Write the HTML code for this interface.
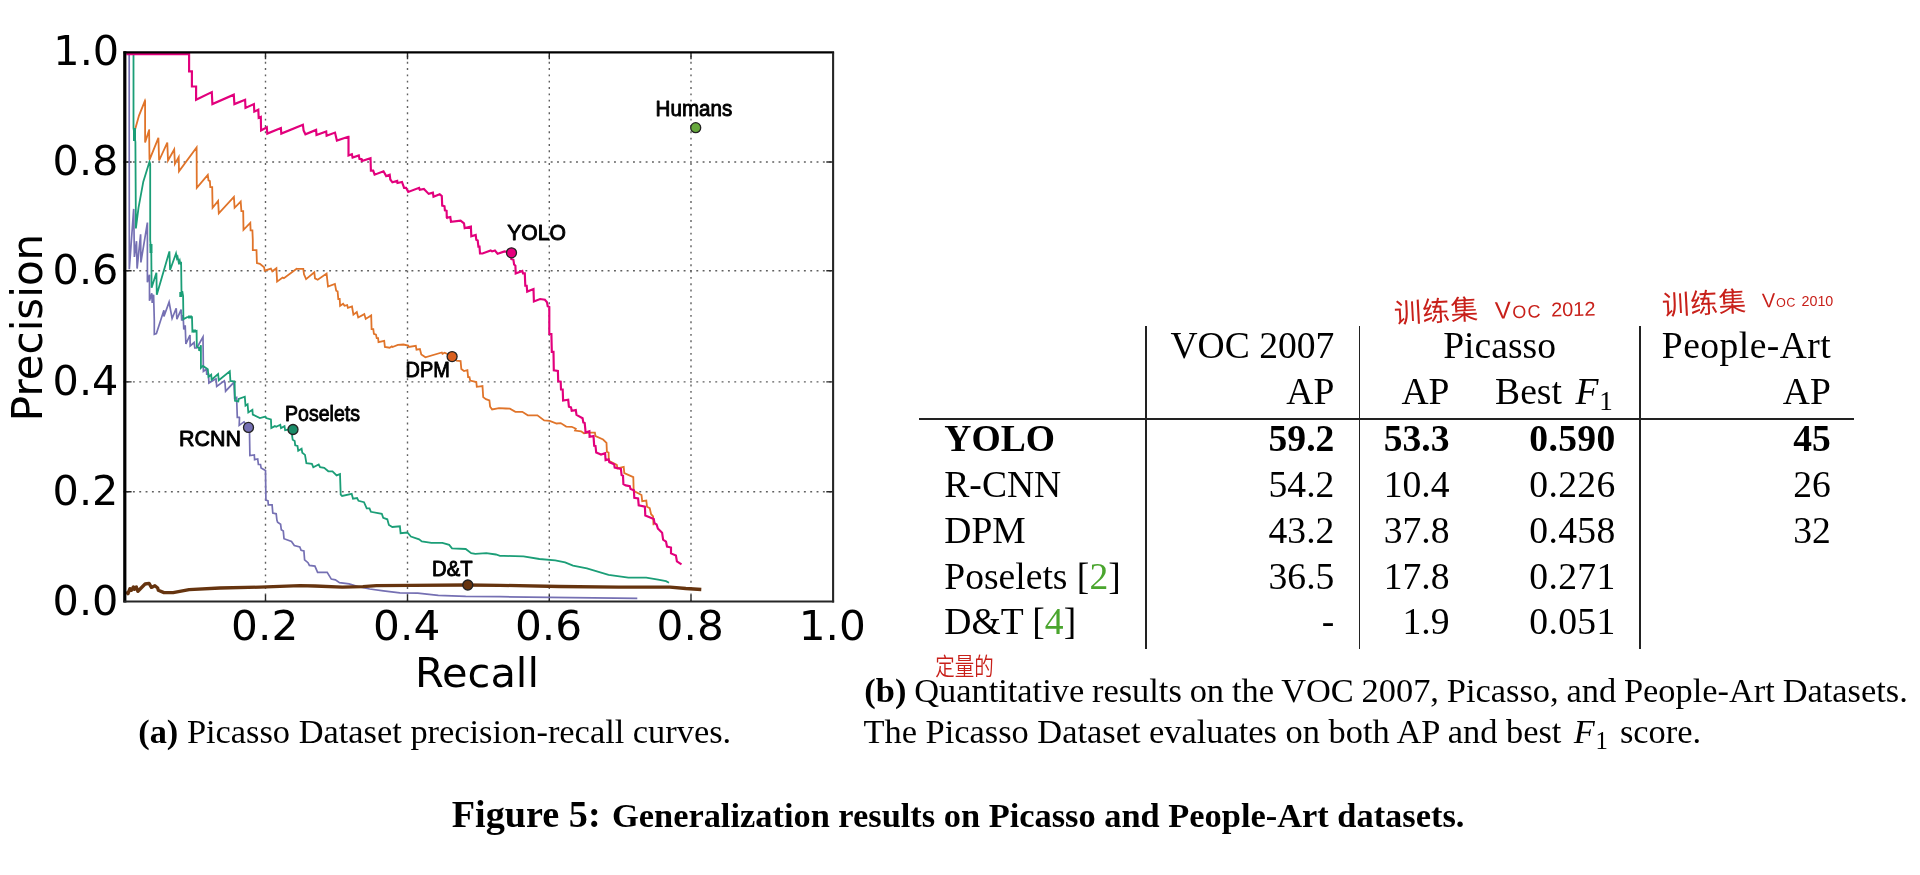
<!DOCTYPE html>
<html lang="en">
<head>
<meta charset="utf-8">
<title>Figure 5: Generalization results on Picasso and People-Art datasets</title>
<style>
html,body{margin:0;padding:0;background:#fff;}
body{width:1920px;height:875px;position:relative;overflow:hidden;filter:blur(0.55px);font-family:"Liberation Serif", "Noto Serif CJK SC", serif;color:#000;}
.chart{position:absolute;left:0;top:0;}
.t{position:absolute;white-space:nowrap;margin:0;}
.t b{font-weight:700;}
.g{color:#4aa52e;}
.mi{font-style:italic;font-family:"Liberation Serif", "Noto Serif CJK SC", serif;margin-left:0.11em;letter-spacing:0.05em;}
sub{font-size:0.72em;vertical-align:baseline;position:relative;top:0.22em;line-height:0;margin-left:-0.04em;margin-right:0.14em;}
.rule{position:absolute;background:#222;}
.hw{position:absolute;white-space:nowrap;color:#c8201a;font-family:"Liberation Sans","Noto Sans CJK SC","WenQuanYi Zen Hei",sans-serif;transform-origin:50% 50%;}
.hw.lat{font-family:"Liberation Sans","DejaVu Sans",sans-serif;}
</style>
</head>
<body>
<svg class="chart" width="1920" height="875" viewBox="0 0 1920 875">
<g stroke="#606060" stroke-width="1.4" stroke-dasharray="1.9 4.43" fill="none">
<path d="M265.5 55.4V601.5"/>
<path d="M126.6 491.8H833.1"/>
<path d="M407.5 55.4V601.5"/>
<path d="M126.6 381.9H833.1"/>
<path d="M549.3 55.4V601.5"/>
<path d="M126.6 270.8H833.1"/>
<path d="M691.0 55.4V601.5"/>
<path d="M126.6 162.0H833.1"/>
</g>
<g stroke="#2a2a2a" stroke-width="1.4" fill="none">
<path d="M265.5 601.5v-6.8M265.5 52.4v6.8"/>
<path d="M123.6 491.8h8M833.1 491.8h-6.8"/>
<path d="M407.5 601.5v-6.8M407.5 52.4v6.8"/>
<path d="M123.6 381.9h8M833.1 381.9h-6.8"/>
<path d="M549.3 601.5v-6.8M549.3 52.4v6.8"/>
<path d="M123.6 270.8h8M833.1 270.8h-6.8"/>
<path d="M691.0 601.5v-6.8M691.0 52.4v6.8"/>
<path d="M123.6 162.0h8M833.1 162.0h-6.8"/>
</g>
<g fill="none" stroke-linejoin="miter" stroke-linecap="butt">
<path d="M129.2 54.4 L129.2 128 L129.3 269.3 L133.7 208.9 L134.4 256.9 L136.5 241.2 L137.1 268.6 L140.6 234.3 L140.9 262.4 L147.4 222.6 L147.4 282.3 L149.5 274.8 L149.5 300.8 L151.8 293.3 L152.2 302.9 L153.6 294.7 L154.3 320 L154.3 334.3 L156.4 333.6 L163.9 310.3 L163.9 316.5 L169.1 302.1 L172.1 318.5 L176.2 308.2 L176.9 319.2 L181.1 309.6 L181.7 320.6 L183.1 315.1 L183.8 329.5 L185.2 325.4 L185.9 343.9 L190 335 L190.2 346 L194.1 342.5 L194.8 348 L196.8 348 L203 337 L203.4 371.3 L206.4 369.3 L206.7 374.1 L208.5 374.1 L208.9 383 L214.7 379.6 L216 378.9 L216.7 386.4 L224.3 380.9 L225 383 L225.6 391.2 L233.9 382.3 L234.6 398.1 L236.6 397.4 L237.3 417.3 L239.4 417.3 L239.5 417.6 L239.2 425.4 L244 421.9 L248.5 427.4 L249.5 432.2 L249.9 455.5 L254.3 454.9 L254.6 459.7 L257.7 459 L258.4 464.5 L260.5 464.5 L261.1 467.9 L265.5 470.6 L265.9 500.1 L268 500.8 L268.3 504.9 L272.1 504.9 L272.8 513.1 L276.2 513.8 L276.9 520 L277.6 522.2 L280.6 524.3 L281.3 529.8 L283.3 531.1 L284 538.7 L291.5 541.4 L294.3 545.5 L299.8 546.9 L301.1 550.3 L303.9 551 L304.6 559.9 L308 562.7 L309.4 565.4 L314.9 566.1 L317.6 572.3 L327.2 572.3 L331.3 579.1 L335.4 579.8 L339.5 582.6 L349.1 583.9 L358.7 586.7 L369.7 589 L383.4 590.8 L399.9 592.9 L417.7 593.1 L438.3 595.3 L465.7 596.3 L500 596.7 L549.3 597.4 L637.3 598.4" stroke="#7570b3" stroke-width="1.7"/>
<path d="M133.5 54.4 L133.5 128 L135.4 142 L135.9 228.4 L138.5 207.8 L143.3 181.7 L149.5 161.8 L150.2 163.9 L150.2 240 L150.5 243.9 L151.3 253.5 L151.6 287.8 L156.4 272.7 L156.8 294.7 L169.4 251.4 L170.1 270 L176 253.5 L176.9 258.3 L177.6 256.9 L178.7 262.4 L179.7 260.4 L180.4 264.5 L181.1 261.7 L181.5 291.9 L182.4 291.9 L183.1 296 L183.4 318 L183.4 319.2 L187.2 317.1 L192 317.1 L192.4 331.6 L196.6 330.9 L196.8 346.6 L198.9 348 L199.2 351 L200.9 345.3 L200.9 367.9 L203 365.9 L207.8 369.3 L208.5 376.8 L211.2 374.8 L211.6 379.6 L218.1 374.1 L218.8 380.3 L229.8 371.3 L230.4 380.9 L234.6 381.6 L235 400.8 L238.3 401.5 L238.7 398.8 L244.8 396.7 L245.5 405.6 L247.6 404.3 L248.3 412.5 L252.4 409.8 L252.8 414.6 L259.9 418 L265.4 416.6 L266.1 418 L270.9 419.4 L271 420.6 L271.3 428.1 L274.9 426.1 L276.2 426.7 L280.3 424.7 L281 428.1 L284.5 426.1 L285.1 430.2 L288.6 429.5 L293 429.5 L292 435 L292.7 439.8 L294.7 441.1 L295.2 445.3 L297.5 445.9 L298.2 450.7 L301.6 448.7 L302.3 452.8 L305 454.9 L306.4 463.1 L311.9 463.8 L313.3 467.2 L318.7 464.5 L320.1 467.2 L324.2 467.9 L328.3 471.3 L332.5 471.3 L336.6 475.4 L340 474.1 L340.7 494.6 L342.1 496 L351.7 493.9 L353 498.7 L357.1 498.1 L358.5 500.8 L364 502.2 L366.7 508.3 L369.5 508.3 L370.9 511.8 L381.8 513.8 L383.2 517.9 L387.3 519.3 L388.9 525 L392.3 527 L399.9 526.3 L400.6 533.2 L407.4 532.5 L410.9 536.6 L419.1 539.4 L421.8 541.4 L431.4 542.8 L442.4 542.8 L449.2 544.9 L452 548.3 L465.7 549 L471.2 553.1 L475.3 553.8 L486.3 553.1 L495.9 554.5 L500 555.8 L503.7 555.8 L523.5 556.4 L539.4 559 L555.2 560.4 L565.1 562.3 L573 565.7 L586.9 568.3 L608.6 574.8 L628.4 577.6 L646.2 577.6 L658.1 579.6 L666 581.1 L669 582.7" stroke="#1b9e77" stroke-width="1.8"/>
<path d="M134.9 130.3 L139 115.6 L145 100.6 L145.1 100.9 L145.1 142.4 L149.2 129.9 L149.1 129.6 L149.5 159.8 L158.4 137.8 L159.1 160.5 L167.3 142.6 L168 160.5 L174.2 149.5 L174.9 163.9 L178.7 157 L179 171.4 L196.6 147.4 L196.8 187.9 L207.8 174.9 L208.5 180.4 L209.9 181.1 L210.3 187.2 L212.2 187.2 L212.6 207.8 L218.1 200.9 L218.8 213.3 L233.9 196.8 L234.6 207.8 L240.7 201.6 L241.4 211.2 L243.2 211.2 L243.5 229.8 L250.3 222.9 L250.6 230.4 L252.4 230.4 L252.8 240 L252.8 250.1 L256.5 250.1 L256.9 263.1 L259.9 263.8 L264.1 267.2 L264.7 270.7 L270.9 268.6 L272.3 271.3 L276.4 268.3 L277.1 281.6 L282.6 277.5 L283.9 278.2 L297 268.6 L296.5 268.8 L303.3 268.8 L304 274.3 L306.1 279.1 L314.3 272.2 L315 278.4 L317.7 279.8 L326.6 273.6 L328 286.6 L334.9 283.9 L336.2 290.7 L337.6 291.4 L338.3 299 L339.7 299 L340.1 305.8 L343.1 303.8 L344.5 305.8 L347.2 305.1 L347.9 307.9 L352 306.5 L353.4 314.7 L356.8 312 L358.2 317.5 L364.3 314.1 L365.7 318.9 L371.2 315.4 L371.6 329.1 L373.3 329.1 L373.9 333.9 L376 334.6 L376.7 338.1 L378.1 338.1 L378.5 342.2 L384.2 340.8 L384.9 347 L389.7 347.7 L391.8 346.3 L392.5 347 L397.9 344.9 L403.4 344.5 L408.2 345.6 L408.9 347 L415.8 345.9 L416.5 349.7 L419.9 349 L421.3 354.5 L425.4 357.3 L441.8 352.5 L442.5 353.8 L444.6 352.7 L452.1 356.3 L456.5 360.7 L460.6 361 L461.3 369 L464 371 L467.4 370.1 L468.1 377.2 L469.5 377.2 L470.2 380.6 L476.3 382 L476.8 386.8 L482.5 386.1 L483.2 397.1 L485.9 399.1 L489.4 400.5 L490.1 406.7 L492.1 409.4 L499 408.1 L505.8 408.5 L509.9 408.7 L515.4 411.8 L522.3 411.8 L527.8 415.3 L537.4 415.3 L544.2 420.4 L549.7 420.8 L556.6 423.5 L560.7 423.1 L566.2 426.6 L571.7 426.8 L575.8 428.6 L575 430.6 L581.1 431.3 L583.9 433.3 L589.4 432.6 L594.9 432.6 L595.5 436.1 L603.1 439.5 L606.5 442.9 L606.9 451.8 L608.6 452.5 L608.8 460.7 L616.8 464.9 L617.5 468.3 L623.7 466.9 L624.3 473.1 L633.3 477.2 L633.7 490.9 L641.5 495 L642.2 501.2 L646.3 500.5 L647 506.7 L649.7 508.1 L651.1 514.2 L653.1 516.3 L653.5 525.2" stroke="#e0742a" stroke-width="1.8"/>
<path d="M126.3 54.1 L189.1 54.1 L189.1 71.4 L191.9 71.4 L191.9 86.5 L196.1 86.5 L196.1 99.7 L211.8 92.1 L212.4 104.1 L233.8 94.7 L234.4 104.1 L245.1 99.7 L245.5 107.9 L253.9 104.1 L254.3 111.6 L258.3 109.7 L258.7 117.9 L260.8 116.9 L261.1 130.5 L266.8 127.3 L267.3 133.6 L280.9 128 L281.3 133.6 L302.9 124.8 L303.6 130.5 L305.4 134.3 L316.1 129.9 L316.5 134.9 L326.2 131.5 L326.6 135.8 L335 132.6 L336.9 140.5 L348.2 136.8 L348.5 136.8 L348.5 155.5 L351.9 154.2 L352.6 157.6 L358.8 155.5 L359.5 159 L361.5 159 L361.8 161 L370.5 158.3 L370.9 170.6 L373.2 170.6 L374.6 174.7 L383.5 171.3 L386.2 176.1 L389.7 174.7 L390.3 179.5 L392.4 182.3 L397.2 180.9 L397.5 183 L402 182 L404.1 187.8 L406.1 187.8 L408.2 191.9 L419.1 187.8 L419.8 189.8 L423.9 188.9 L428.7 193.9 L432.9 192.6 L433.5 196.7 L439.7 194.3 L441.8 196 L442.2 205.6 L444.5 206.3 L444.9 210.4 L446.6 210.8 L446.8 217.9 L446.2 217.8 L450.3 217.1 L451 221.9 L460.6 220.6 L464 223.3 L464.7 228.1 L470.9 226.7 L471.3 236.3 L475.7 235 L476.3 239.8 L477.7 240.5 L478.4 246.6 L479.5 246.6 L480 253.5 L482.5 253.5 L490.7 250.5 L492.1 251.4 L494.9 250.5 L497.6 253.8 L504.5 251.4 L511.3 252.8 L511.3 259 L513.4 259.7 L514.1 264.5 L515.4 265.8 L515.7 273.4 L522.3 271 L523 273.4 L524.8 273.4 L525.3 285.7 L526.7 285.7 L527.2 291.6 L533.5 289.1 L533.9 301.5 L540.1 299 L544.9 299.8 L547 302.2 L547.7 306.3 L549.3 307 L549.3 320 L549.3 334 L551.4 334 L551.8 351.8 L553.5 351.8 L553.8 370.3 L557.9 371 L558.2 381.3 L560.7 381.6 L561 389.5 L562.7 389.5 L563.1 400.5 L568.2 399.8 L568.9 406.7 L571 407.4 L571.7 410.8 L575.8 410.1 L576.5 414.9 L582.6 418.3 L583.3 422.5 L584.7 423.1 L585.4 430 L585.5 432.6 L589.4 431.3 L589.6 436.7 L593.5 436.1 L594.2 445.7 L595.5 445.9 L596.2 452.5 L601 454.6 L605.1 453.2 L605.6 460.1 L608.6 459.4 L609.3 462.1 L614.1 464.2 L614.7 467.6 L620.9 469 L621.6 475.1 L623 475.8 L623.4 484.1 L625.7 485.4 L629.8 486.1 L630.5 488.9 L633.9 490.2 L634.3 497.8 L638.1 498.5 L638.7 505.3 L644.9 506.7 L645.3 515.6 L653.8 519 L654.5 523.1 L656.6 524.5 L657.9 528.6 L659.1 529.7 L662.1 532.7 L663.1 539.6 L666 541.6 L667 546.5 L671 547.5 L671 553.4 L675.9 555.4 L676.9 561.3 L681.5 564.3" stroke="#e2007c" stroke-width="2.15"/>
<path d="M126.3 591.4 L128 593.7 L129.9 588.6 L131.4 590.3 L133.4 586.9 L134.3 589.4 L136.3 586.9 L137.9 591.4 L141.1 588 L145.1 584 L149.1 583.4 L151.4 587.4 L154.9 585.7 L157.7 588 L158.3 590.3 L164 592.6 L173.1 592.6 L189.1 589.7 L220 588 L260 587.1 L300 585.7 L314.9 586 L342.3 587.1 L362.9 586.7 L376.6 585.6 L410.9 585.3 L465.7 585 L500 585.3 L559.2 586.5 L618.5 587.1 L670 587.1 L685.8 588.5 L701.3 589.5" stroke="#66340f" stroke-width="3.3" stroke-linejoin="round"/>
</g>
<g stroke="#1b9e77" stroke-width="3" fill="none"><path d="M134.5 128V141"/><path d="M151 244V253"/><path d="M180.8 292V297"/><path d="M188 317H192"/><path d="M193 331H196"/></g>
<path d="M124.8 51.2V602.5" stroke="#000" stroke-width="3.2" fill="none"/>
<path d="M123.6 52.4H834.1" stroke="#000" stroke-width="2.4" fill="none"/>
<path d="M833.1 52.4V602.5" stroke="#262626" stroke-width="2.1" fill="none"/>
<path d="M123.6 601.5H834.1" stroke="#262626" stroke-width="2" fill="none"/>
<circle cx="695.7" cy="127.7" r="5" fill="#66a83c" stroke="#222" stroke-width="1.3"/>
<circle cx="511.5" cy="252.8" r="5" fill="#e6007e" stroke="#222" stroke-width="1.3"/>
<circle cx="452.1" cy="356.6" r="5" fill="#d95f1e" stroke="#222" stroke-width="1.3"/>
<circle cx="293" cy="429.5" r="5" fill="#1b8c68" stroke="#222" stroke-width="1.3"/>
<circle cx="248.5" cy="427.4" r="5" fill="#7570b3" stroke="#222" stroke-width="1.3"/>
<circle cx="467.8" cy="585" r="5" fill="#66340f" stroke="#222" stroke-width="1.3"/>
<g font-family="'DejaVu Sans', 'Liberation Sans', sans-serif" font-size="41" fill="#000">
<text transform="translate(264.7 640.3) scale(1.03 1)" text-anchor="middle">0.2</text>
<text transform="translate(406.7 640.3) scale(1.03 1)" text-anchor="middle">0.4</text>
<text transform="translate(548.5 640.3) scale(1.03 1)" text-anchor="middle">0.6</text>
<text transform="translate(690.2 640.3) scale(1.03 1)" text-anchor="middle">0.8</text>
<text transform="translate(832.3 640.3) scale(1.03 1)" text-anchor="middle">1.0</text>
<text transform="translate(118.4 614.9) scale(1.01 1)" text-anchor="end">0.0</text>
<text transform="translate(118.4 505.2) scale(1.01 1)" text-anchor="end">0.2</text>
<text transform="translate(118.4 395.3) scale(1.01 1)" text-anchor="end">0.4</text>
<text transform="translate(118.4 284.2) scale(1.01 1)" text-anchor="end">0.6</text>
<text transform="translate(118.4 175.4) scale(1.01 1)" text-anchor="end">0.8</text>
<text transform="translate(119.2 64.5) scale(1.01 1)" text-anchor="end">1.0</text>
</g>
<g font-family="'DejaVu Sans', 'Liberation Sans', sans-serif" font-size="41.5" fill="#000">
<text transform="translate(477 686.5) scale(1.025 1)" text-anchor="middle" font-size="40.5">Recall</text>
<text transform="translate(41.6 327.5) rotate(-90)" text-anchor="middle" font-size="42">Precision</text>
</g>
<g font-family="'Liberation Sans', sans-serif" font-weight="400" font-size="21.5" fill="#000" stroke="#000" stroke-width="0.9" stroke-linejoin="round">
<text x="655.6" y="116.1" textLength="76.6" lengthAdjust="spacingAndGlyphs">Humans</text>
<text x="507.2" y="240" textLength="58.7" lengthAdjust="spacingAndGlyphs">YOLO</text>
<text x="405.5" y="377" textLength="44.3" lengthAdjust="spacingAndGlyphs">DPM</text>
<text x="285" y="421" textLength="75" lengthAdjust="spacingAndGlyphs">Poselets</text>
<text x="179" y="446" textLength="62" lengthAdjust="spacingAndGlyphs">RCNN</text>
<text x="432.1" y="575.7" textLength="40.5" lengthAdjust="spacingAndGlyphs">D&amp;T</text>
</g>
</svg>
<div class="rule" style="left:919.2px;top:417.8px;width:934.7px;height:1.9px;"></div>
<div class="rule" style="left:1145.3px;top:325.7px;width:1.4px;height:323px;"></div>
<div class="rule" style="left:1358.7px;top:325.7px;width:1.4px;height:323px;"></div>
<div class="rule" style="left:1639.3px;top:325.7px;width:1.4px;height:323px;"></div>
<div class="t" style="top:323.30px;font-size:37.6px;line-height:45px;right:585.7px;text-align:right;">VOC 2007</div>
<div class="t" style="top:368.90px;font-size:37.6px;line-height:45px;right:585.7px;text-align:right;">AP</div>
<div class="t" style="top:323.30px;font-size:37.6px;line-height:45px;left:1099.6px;width:800px;text-align:center;">Picasso</div>
<div class="t" style="top:368.90px;font-size:37.6px;line-height:45px;right:470.5px;text-align:right;">AP</div>
<div class="t" style="top:368.90px;font-size:37.6px;line-height:45px;right:303.5px;text-align:right;">Best <i class="mi">F</i><sub>1</sub></div>
<div class="t" style="top:323.30px;font-size:37.6px;line-height:45px;right:88.8px;text-align:right;letter-spacing:0.45px;">People-Art</div>
<div class="t" style="top:368.90px;font-size:37.6px;line-height:45px;right:89.2px;text-align:right;">AP</div>
<div class="t" style="top:416.40px;font-size:37.6px;line-height:45px;font-weight:700;left:944.3px;">YOLO</div>
<div class="t" style="top:416.40px;font-size:37.6px;line-height:45px;font-weight:700;right:585.7px;text-align:right;">59.2</div>
<div class="t" style="top:416.40px;font-size:37.6px;line-height:45px;font-weight:700;right:470.5px;text-align:right;">53.3</div>
<div class="t" style="top:416.40px;font-size:37.6px;line-height:45px;font-weight:700;right:304.4px;text-align:right;letter-spacing:0.35px;">0.590</div>
<div class="t" style="top:416.40px;font-size:37.6px;line-height:45px;font-weight:700;right:89.2px;text-align:right;">45</div>
<div class="t" style="top:462.10px;font-size:37.6px;line-height:45px;left:944.3px;">R-CNN</div>
<div class="t" style="top:462.10px;font-size:37.6px;line-height:45px;right:585.7px;text-align:right;">54.2</div>
<div class="t" style="top:462.10px;font-size:37.6px;line-height:45px;right:470.5px;text-align:right;">10.4</div>
<div class="t" style="top:462.10px;font-size:37.6px;line-height:45px;right:304.4px;text-align:right;letter-spacing:0.35px;">0.226</div>
<div class="t" style="top:462.10px;font-size:37.6px;line-height:45px;right:89.2px;text-align:right;">26</div>
<div class="t" style="top:507.90px;font-size:37.6px;line-height:45px;left:944.3px;">DPM</div>
<div class="t" style="top:507.90px;font-size:37.6px;line-height:45px;right:585.7px;text-align:right;">43.2</div>
<div class="t" style="top:507.90px;font-size:37.6px;line-height:45px;right:470.5px;text-align:right;">37.8</div>
<div class="t" style="top:507.90px;font-size:37.6px;line-height:45px;right:304.4px;text-align:right;letter-spacing:0.35px;">0.458</div>
<div class="t" style="top:507.90px;font-size:37.6px;line-height:45px;right:89.2px;text-align:right;">32</div>
<div class="t" style="top:553.60px;font-size:37.6px;line-height:45px;left:944.3px;">Poselets [<span class="g">2</span>]</div>
<div class="t" style="top:553.60px;font-size:37.6px;line-height:45px;right:585.7px;text-align:right;">36.5</div>
<div class="t" style="top:553.60px;font-size:37.6px;line-height:45px;right:470.5px;text-align:right;">17.8</div>
<div class="t" style="top:553.60px;font-size:37.6px;line-height:45px;right:304.4px;text-align:right;letter-spacing:0.35px;">0.271</div>
<div class="t" style="top:599.40px;font-size:37.6px;line-height:45px;left:944.3px;">D&amp;T [<span class="g">4</span>]</div>
<div class="t" style="top:599.40px;font-size:37.6px;line-height:45px;right:585.7px;text-align:right;">-</div>
<div class="t" style="top:599.40px;font-size:37.6px;line-height:45px;right:470.5px;text-align:right;">1.9</div>
<div class="t" style="top:599.40px;font-size:37.6px;line-height:45px;right:304.4px;text-align:right;letter-spacing:0.35px;">0.051</div>
<div class="t" style="top:711.40px;font-size:34.4px;line-height:41px;left:138.2px;"><b>(a)</b> Picasso Dataset precision-recall curves.</div>
<div class="t" style="top:669.90px;font-size:34.4px;line-height:41px;left:864.3px;word-spacing:-0.75px;"><b>(b)</b> Quantitative results on the VOC 2007, Picasso, and People-Art Datasets.</div>
<div class="t" style="top:711.40px;font-size:34.4px;line-height:41px;left:863.5px;">The Picasso Dataset evaluates on both AP and best <i class="mi">F</i><sub>1</sub> score.</div>
<div class="t" style="top:791.20px;font-size:38.2px;line-height:46px;font-weight:700;left:451.8px;">Figure 5:</div>
<div class="t" style="top:794.70px;font-size:34.4px;line-height:41px;font-weight:700;left:612.0px;">Generalization results on Picasso and People-Art datasets.</div>
<div class="hw" style="left:1394px;top:297.8px;font-size:27.5px;line-height:27.5px;font-weight:400;letter-spacing:0.8px;transform:rotate(-3deg);">训练集</div>
<div class="hw lat" style="left:1495px;top:301.0px;font-size:18px;line-height:18px;font-weight:400;letter-spacing:1.2px;transform:rotate(-2deg);"><span style="font-size:24px">V</span>OC</div>
<div class="hw lat" style="left:1550.5px;top:298.5px;font-size:20px;line-height:20px;font-weight:400;letter-spacing:0px;transform:rotate(-1deg);">2012</div>
<div class="hw" style="left:1661.5px;top:289.8px;font-size:27.5px;line-height:27.5px;font-weight:400;letter-spacing:0.8px;transform:rotate(-3deg);">训练集</div>
<div class="hw lat" style="left:1761.5px;top:294.2px;font-size:12.5px;line-height:12.5px;font-weight:400;letter-spacing:0.6px;transform:rotate(-2deg);"><span style="font-size:20px">V</span>OC</div>
<div class="hw lat" style="left:1801.5px;top:294.4px;font-size:14.3px;line-height:14.3px;font-weight:400;letter-spacing:0px;transform:rotate(0deg);">2010</div>
<div class="hw" style="left:935.3px;top:660.4px;font-size:19.5px;line-height:19.5px;font-weight:350;transform-origin:50% 100%;transform:scale(1,1.2);">定量的</div>
</body>
</html>
